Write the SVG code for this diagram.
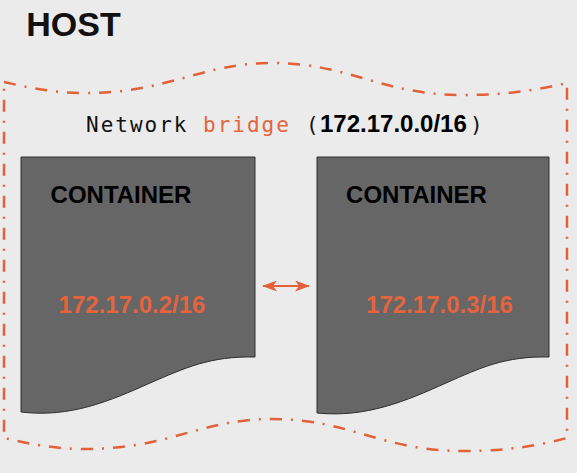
<svg xmlns="http://www.w3.org/2000/svg" width="577" height="473" viewBox="0 0 577 473">
  <style>
    .bg { fill: #ebebeb; }
    .host { fill: none; stroke: #e2603a; stroke-width: 2.5; stroke-dasharray: 12 9 2 9; }
    .box { fill: #666666; stroke: #2e2e2e; stroke-width: 1; }
    .title { font-family: "Liberation Sans", Arial, sans-serif; font-weight: bold; font-size: 34px; fill: #111; }
    .lbl { font-family: "Liberation Sans", Arial, sans-serif; font-weight: bold; font-size: 24px; fill: #000; }
    .ip { font-family: "Liberation Sans", Arial, sans-serif; font-weight: bold; font-size: 24px; fill: #e4643e; }
    .mono { font-family: "DejaVu Sans Mono", monospace; font-size: 21px; fill: #111; }
    .orange { fill: #e4643e; }
    .conn { fill: none; stroke: #e2603a; stroke-width: 2; }
  </style>
  <defs>
    <marker id="arr" viewBox="0 0 15 11" refX="14" refY="5.5" markerWidth="15" markerHeight="11" markerUnits="userSpaceOnUse" orient="auto-start-reverse">
      <path d="M0,0 L15,5.5 L0,11 L4,5.5 Z" fill="#e2603a"/>
    </marker>
  </defs>
  <rect class="bg" x="0" y="0" width="577" height="473"/>

  <g id="host">
    <text class="title" x="73.5" y="36" text-anchor="middle">HOST</text>
    <path class="host" d="M4,82 C30,88 55,93 85,93 C170,93 200,63 272,63 C350,63 380,95 464,95 C510,95 540,89 567,83 L567,438 C540,445 510,451 464,451 C380,451 350,419 272,419 C200,419 170,449 85,449 C55,449 30,444 4,438 Z"/>
    <text class="mono" y="132"><tspan x="86" letter-spacing="2">Network</tspan><tspan x="203" letter-spacing="2" class="orange">bridge</tspan><tspan x="306" letter-spacing="2">(</tspan><tspan x="320" class="lbl">172.17.0.0/16</tspan><tspan x="470">)</tspan></text>
  </g>

  <g id="container1">
    <path class="box" d="M21,157 H255 V357 C210,356 185,368 150,383 C110,401 70,418 21,412 Z"/>
    <text class="lbl" x="121" y="203" text-anchor="middle">CONTAINER</text>
    <text class="ip" x="132" y="313" text-anchor="middle">172.17.0.2/16</text>
  </g>

  <g id="container2">
    <path class="box" d="M317,157 H549 V357 C505,356 480,368 446,383 C406,401 366,418 317,413 Z"/>
    <text class="lbl" x="416.5" y="203" text-anchor="middle">CONTAINER</text>
    <text class="ip" x="439.5" y="313" text-anchor="middle">172.17.0.3/16</text>
  </g>

  <g id="connectors">
    <path class="conn" d="M263,286 L309,286" marker-start="url(#arr)" marker-end="url(#arr)"/>
  </g>
</svg>
